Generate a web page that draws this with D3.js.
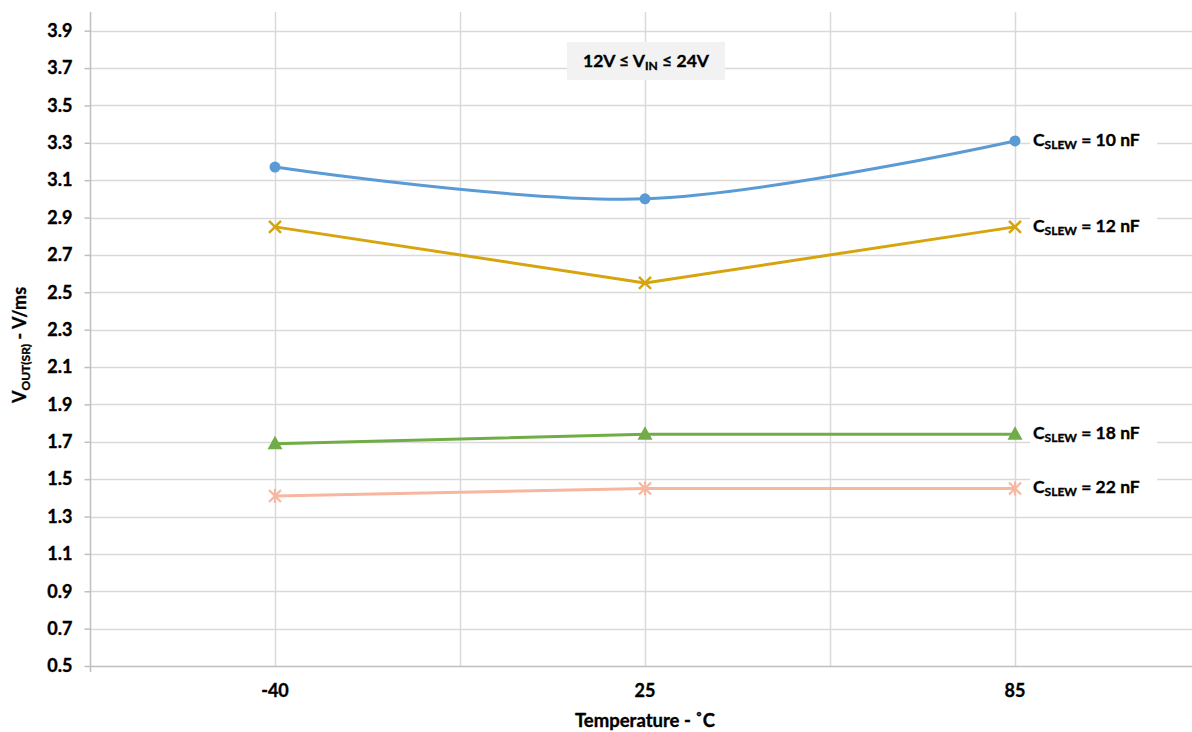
<!DOCTYPE html>
<html>
<head>
<meta charset="utf-8">
<script src="https://cdn.jsdelivr.net/npm/d3@7"></script>
<style>
  html, body { margin: 0; padding: 0; background: #fff; }
  svg { display: block; font-family: Lato, "Open Sans", sans-serif; }
  .bold { font-weight: bold; fill: #000; stroke: #000; stroke-width: 0.35px; }
</style>
</head>
<body>
<svg id="chart" width="1192" height="732"></svg>
<script>
// Temperature categories (°C)
const temperatures = ["-40", "25", "85"];

// Output slew rate (V/ms) for each slew capacitor
const slew10nF = [3.17, 3.00, 3.31];
const slew12nF = [2.85, 2.55, 2.85];
const slew18nF = [1.69, 1.74, 1.74];
const slew22nF = [1.41, 1.45, 1.45];

const yTicks = [0.5, 0.7, 0.9, 1.1, 1.3, 1.5, 1.7, 1.9, 2.1, 2.3, 2.5, 2.7, 2.9, 3.1, 3.3, 3.5, 3.7, 3.9];

const series = [
  { cap: "10", values: slew10nF, color: "#5B9BD5", marker: "circle", smooth: true },
  { cap: "12", values: slew12nF, color: "#D6A50E", marker: "cross", smooth: false },
  { cap: "18", values: slew18nF, color: "#70AD47", marker: "triangle", smooth: false },
  { cap: "22", values: slew22nF, color: "#F7B6A0", marker: "star", smooth: false }
];

const svg = d3.select("#chart");
const plot = { left: 90, right: 1200, top: 12, bottom: 666 };

const x = d3.scaleBand().domain(temperatures).range([plot.left, plot.right]).paddingInner(0).paddingOuter(0);
const xc = d => x(d) + x.bandwidth() / 2;
const y = d3.scaleLinear().domain([0.5, 4.0]).range([plot.bottom, plot.top]);

// Horizontal gridlines
svg.append("g").selectAll("line").data(yTicks.slice(1)).join("line")
  .attr("x1", plot.left).attr("x2", plot.right)
  .attr("y1", d => Math.round(y(d)) + 0.5).attr("y2", d => Math.round(y(d)) + 0.5)
  .attr("stroke", "#D9D9D9").attr("stroke-width", 1.5);

// Vertical gridlines at category centres and boundaries
const vLines = [];
temperatures.forEach((t, i) => {
  if (i > 0) vLines.push(x(t));
  vLines.push(xc(t));
});
svg.append("g").selectAll("line").data(vLines).join("line")
  .attr("x1", d => Math.round(d) + 0.5).attr("x2", d => Math.round(d) + 0.5)
  .attr("y1", plot.top).attr("y2", plot.bottom)
  .attr("stroke", "#D9D9D9").attr("stroke-width", 1.5);

// Y axis
const yAxis = svg.append("g").attr("transform", `translate(${plot.left + 0.5},0)`)
  .call(d3.axisLeft(y).tickValues(yTicks).tickSize(6).tickPadding(12).tickFormat(d3.format(".1f")));
yAxis.select(".domain").attr("stroke", "#BFBFBF").attr("stroke-width", 1.5)
  .attr("d", `M0,${plot.top}V${plot.bottom + 6}`);
yAxis.selectAll(".tick line").attr("stroke", "#BFBFBF").attr("stroke-width", 1.5);
yAxis.selectAll(".tick text").attr("class", "bold").attr("font-size", 18)
  .attr("font-family", "Lato, sans-serif");

// X axis
const xAxisG = svg.append("g");
xAxisG.append("line").attr("x1", plot.left).attr("x2", plot.right)
  .attr("y1", plot.bottom + 0.5).attr("y2", plot.bottom + 0.5)
  .attr("stroke", "#BFBFBF").attr("stroke-width", 1.5);
xAxisG.selectAll("text").data(temperatures).join("text")
  .attr("class", "bold")
  .attr("x", d => xc(d)).attr("y", 697)
  .attr("text-anchor", "middle").attr("font-size", 18)
  .text(d => d);

// Axis titles
svg.append("text").attr("class", "bold").attr("x", 645).attr("y", 727).attr("text-anchor", "middle")
  .attr("font-size", 18.5)
  .text("Temperature  - ˚C");

const yTitle = svg.append("text").attr("class", "bold")
  .attr("transform", `translate(26,${(plot.top + plot.bottom) / 2 + 6}) rotate(-90)`)
  .attr("text-anchor", "middle").attr("font-size", 18);
yTitle.append("tspan").text("V");
yTitle.append("tspan").attr("font-size", 12).attr("dy", 4).text("OUT(SR)");
yTitle.append("tspan").attr("dy", -4).text(" - V/ms");

// Series lines
const straight = d3.line().x(d => xc(d.t)).y(d => y(d.v));
const smooth = d3.line().x(d => xc(d.t)).y(d => y(d.v)).curve(d3.curveCatmullRom.alpha(0.5));

series.forEach(s => {
  const pts = s.values.map((v, i) => ({ t: temperatures[i], v }));
  svg.append("path").datum(pts)
    .attr("d", s.smooth ? smooth : straight)
    .attr("fill", "none").attr("stroke", s.color).attr("stroke-width", 3)
    .attr("stroke-linejoin", "round").attr("stroke-linecap", "round");

  const g = svg.append("g").attr("fill", s.color).attr("stroke", s.color);
  pts.forEach(p => {
    const cx = xc(p.t), cy = y(p.v);
    if (s.marker === "circle") {
      g.append("circle").attr("cx", cx).attr("cy", cy).attr("r", 5.5).attr("stroke", "none");
    } else if (s.marker === "cross") {
      g.append("path").attr("d", `M${cx - 6},${cy - 6}L${cx + 6},${cy + 6}M${cx - 6},${cy + 6}L${cx + 6},${cy - 6}`)
        .attr("stroke-width", 2.5).attr("fill", "none");
    } else if (s.marker === "triangle") {
      g.append("path").attr("d", `M${cx},${cy - 8}L${cx + 7.5},${cy + 5.5}L${cx - 7.5},${cy + 5.5}Z`)
        .attr("stroke", "none");
    } else if (s.marker === "star") {
      g.append("path").attr("d",
        `M${cx - 6},${cy - 6}L${cx + 6},${cy + 6}M${cx - 6},${cy + 6}L${cx + 6},${cy - 6}M${cx},${cy - 7}L${cx},${cy + 7}`)
        .attr("stroke-width", 2.2).attr("fill", "none");
    }
  });

  // Series label at the right end
  const last = pts[pts.length - 1];
  const ly = y(last.v);
  const lg = svg.append("g").attr("transform", `translate(1030,${ly})`);
  lg.append("rect").attr("x", 0).attr("y", -13).attr("width", 127).attr("height", 26).attr("fill", "#fff");
  const lt = lg.append("text").attr("class", "bold").attr("x", 3).attr("y", 5).attr("font-size", 17.5);
  lt.append("tspan").text("C");
  lt.append("tspan").attr("font-size", 12).attr("dy", 3).text("SLEW");
  lt.append("tspan").attr("dy", -3).text(` = ${s.cap} nF`);
});

// Input voltage range note
const note = svg.append("g").attr("transform", "translate(567,42)");
note.append("rect").attr("width", 158).attr("height", 38).attr("fill", "#F2F2F2");
const nt = note.append("text").attr("class", "bold").attr("x", 79).attr("y", 25).attr("text-anchor", "middle")
  .attr("font-size", 17.5);
nt.append("tspan").text("12V ≤ V");
nt.append("tspan").attr("font-size", 12).attr("dy", 3).text("IN");
nt.append("tspan").attr("dy", -3).text(" ≤ 24V");
</script>
</body>
</html>
